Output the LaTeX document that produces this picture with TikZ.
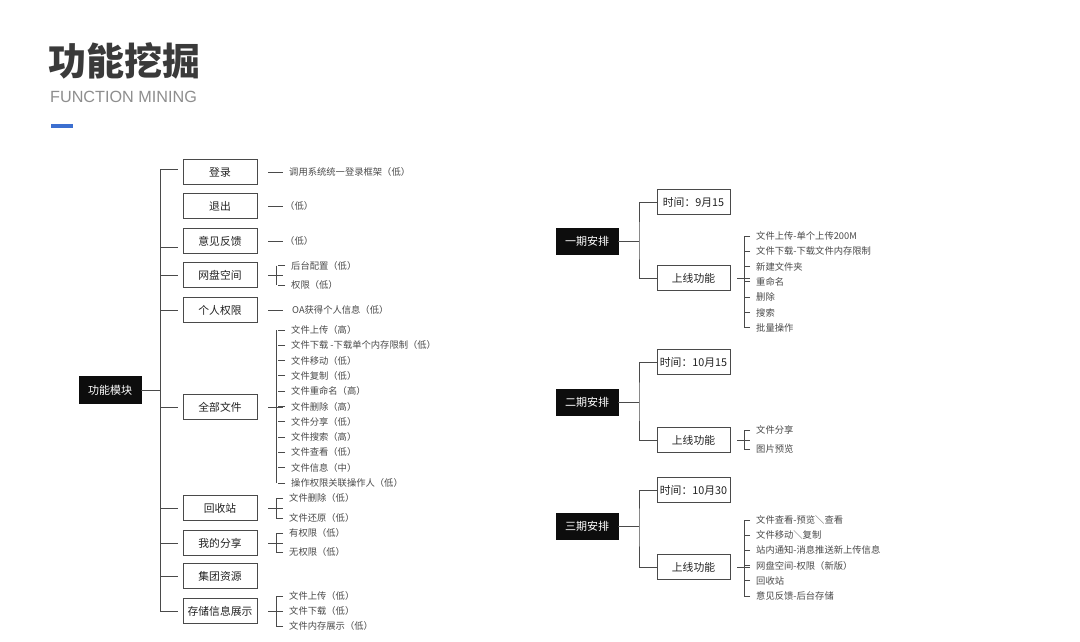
\documentclass[tikz,border=0pt]{standalone}
\usepackage{fontspec}
\setmainfont{Noto Sans CJK SC}
\newfontfamily\latinfont{Liberation Sans}
\definecolor{linec}{HTML}{4A4A4A}
\definecolor{boxd}{HTML}{4A4A4A}
\definecolor{leafc}{HTML}{4A4A4A}
\definecolor{boxt}{HTML}{222222}
\definecolor{titlec}{HTML}{3A3A3A}
\definecolor{subc}{HTML}{8E8E8E}
\definecolor{bluec}{HTML}{3C6FD0}
\definecolor{blk}{HTML}{0D0D0D}
\begin{document}
\begin{tikzpicture}[x=1pt,y=-1pt,
  ln/.style={draw=linec,line width=0.85pt},
  box/.style={draw=boxd,line width=0.9pt,minimum width=74pt,minimum height=25pt,inner sep=0pt,text=boxt,font=\fontsize{10.8}{12}\selectfont,text height=9.5pt,text depth=1.3pt},
  rbox/.style={box,minimum width=73pt},
  blackbox/.style={fill=blk,draw=blk,minimum width=62pt,minimum height=26pt,inner sep=0pt,text=white,font=\fontsize{11}{13}\selectfont,text height=9.7pt,text depth=1.3pt},
  leaf/.style={anchor=west,inner sep=0pt,text=leafc,font=\fontsize{9.3}{11}\selectfont,text height=8.2pt,text depth=1.1pt}
]
\useasboundingbox (0,0) rectangle (1080,641);
\fill[white] (0,0) rectangle (1080,641);

% title
\node[anchor=west,inner sep=0pt,text=titlec,font=\fontsize{38}{41}\selectfont\bfseries,text height=33.4pt,text depth=4.6pt] (title) at (48.5,61) {功能挖掘};
\node[anchor=base west,inner sep=0pt,text=subc,font=\latinfont\fontsize{16.2}{18}\selectfont] (sub) at (50,102.5) {FUNCTION MINING};
\fill[bluec] (51,124) rectangle (73,127.5);

% ===== left tree =====
\node[blackbox,minimum height=27pt] (root) at (110,390) {功能模块};
\node[box] (b1) at (220,172) {登录};
\node[box] (b2) at (220,206) {退出};
\node[box] (b3) at (220,241) {意见反馈};
\node[box] (b4) at (220,275) {网盘空间};
\node[box] (b5) at (220,310) {个人权限};
\node[box] (b6) at (220,407) {全部文件};
\node[box] (b7) at (220,508) {回收站};
\node[box] (b8) at (220,543) {我的分享};
\node[box] (b9) at (220,576) {集团资源};
\node[box] (b10) at (220,611) {存储信息展示};

\draw[ln] ([xshift=-5pt,yshift=3pt]b1.west) -| ([xshift=-22pt]b10.west) -- ([xshift=-5pt]b10.west);
\draw[ln] ([xshift=-5pt,yshift=-6pt]b3.west) -- ++(-17,0);
\foreach \n in {b4,b5,b6,b7,b8,b9}
  \draw[ln] ([xshift=-5pt]\n.west) -- ++(-17,0);
\draw[ln] (root.east) -- ++(20,0);

% single leaves
\node[leaf] (l1) at (289,172) {调用系统统一登录框架（低）};
\node[leaf] (l2) at (285,206) {（低）};
\node[leaf] (l3) at (285,241) {（低）};
\node[leaf] (l5) at (292,310) {OA获得个人信息（低）};
\foreach \n in {b1,b2,b3,b5}
  \draw[ln] ([xshift=11pt]\n.east) -- ++(15,0);

% 网盘空间
\node[leaf] (w1) at (291,265.5) {后台配置（低）};
\node[leaf] (w2) at (291,285) {权限（低）};
% 全部文件
\foreach \t [count=\i] in {文件上传（高）,文件下载 -下载单个内存限制（低）,文件移动（低）,文件复制（低）,文件重命名（高）,文件删除（高）,文件分享（低）,文件搜索（高）,文件查看（低）,文件信息（中）,操作权限关联操作人（低）}
  \node[leaf] (a\i) at (291,{330+15.3*(\i-1)}) {\t};
% 回收站
\node[leaf] (r1) at (289,498) {文件删除（低）};
\node[leaf] (r2) at (289,518) {文件还原（低）};
% 我的分享
\node[leaf] (s1) at (289,533) {有权限（低）};
\node[leaf] (s2) at (289,552) {无权限（低）};
% 存储信息展示
\node[leaf] (c1) at (289,596) {文件上传（低）};
\node[leaf] (c2) at (289,611) {文件下载（低）};
\node[leaf] (c3) at (289,626) {文件内存展示（低）};

\foreach \n in {w1,w2,a1,a2,a3,a4,a5,a6,a7,a8,a9,a10,a11,r1,r2,s1,s2,c1,c2,c3}
  \draw[ln] ([xshift=-6pt]\n.west) -| ([xshift=-13pt]\n.west);
\draw[ln] (276,265.5) -- (276,285);
\draw[ln] (276,330) -- (276,483);
\draw[ln] (276,498) -- (276,518);
\draw[ln] (276,533) -- (276,552);
\draw[ln] (276,596) -- (276,626);
\foreach \n in {b4,b6,b7,b8,b10}
  \draw[ln] ([xshift=11pt]\n.east) -- ++(15,0);

% ===== right side =====
\foreach \k/\p/\tt/\py/\ty/\fy in {1/一期安排/9月15/241/202/278,2/二期安排/10月15/402/362/440,3/三期安排/10月30/526/490/567}{
  \node[blackbox] (P\k) at (587,\py) {\p};
  \node[rbox] (T\k) at (693.5,\ty) {时间：\tt};
  \node[rbox] (F\k) at (693.5,\fy) {上线功能};
  \coordinate (v\k) at (639,\py);
  \draw[ln] (P\k.east) -- (v\k);
  \draw[ln] (T\k.west) -| (v\k) |- (F\k.west);
  \draw[ln] ([xshift=7pt]F\k.east) -- ++(13,0);
}

\foreach \t [count=\i] in {文件上传-单个上传200M,文件下载-下载文件内存限制,新建文件夹,重命名,删除,搜索,批量操作}
  \node[leaf,font=\fontsize{9.3}{11}\selectfont] (x\i) at (756,{236+15.3*(\i-1)}) {\t};
\foreach \t [count=\i] in {文件分享,图片预览}
  \node[leaf,font=\fontsize{9.3}{11}\selectfont] (y\i) at (756,{430+19*(\i-1)}) {\t};
\foreach \t [count=\i] in {文件查看-预览＼查看,文件移动＼复制,站内通知-消息推送新上传信息,网盘空间-权限（新版）,回收站,意见反馈-后台存储}
  \node[leaf,font=\fontsize{9.3}{11}\selectfont] (z\i) at (756,{520+15.2*(\i-1)}) {\t};

\foreach \n in {x1,x2,x3,x4,x5,x6,x7,y1,y2,z1,z2,z3,z4,z5,z6}
  \draw[ln] ([xshift=-6pt]\n.west) -- ([xshift=-12pt]\n.west);
\draw[ln] ([xshift=-12pt]x1.west) -- ([xshift=-12pt]x7.west);
\draw[ln] ([xshift=-12pt]y1.west) -- ([xshift=-12pt]y2.west);
\draw[ln] ([xshift=-12pt]z1.west) -- ([xshift=-12pt]z6.west);
\end{tikzpicture}
\end{document}
